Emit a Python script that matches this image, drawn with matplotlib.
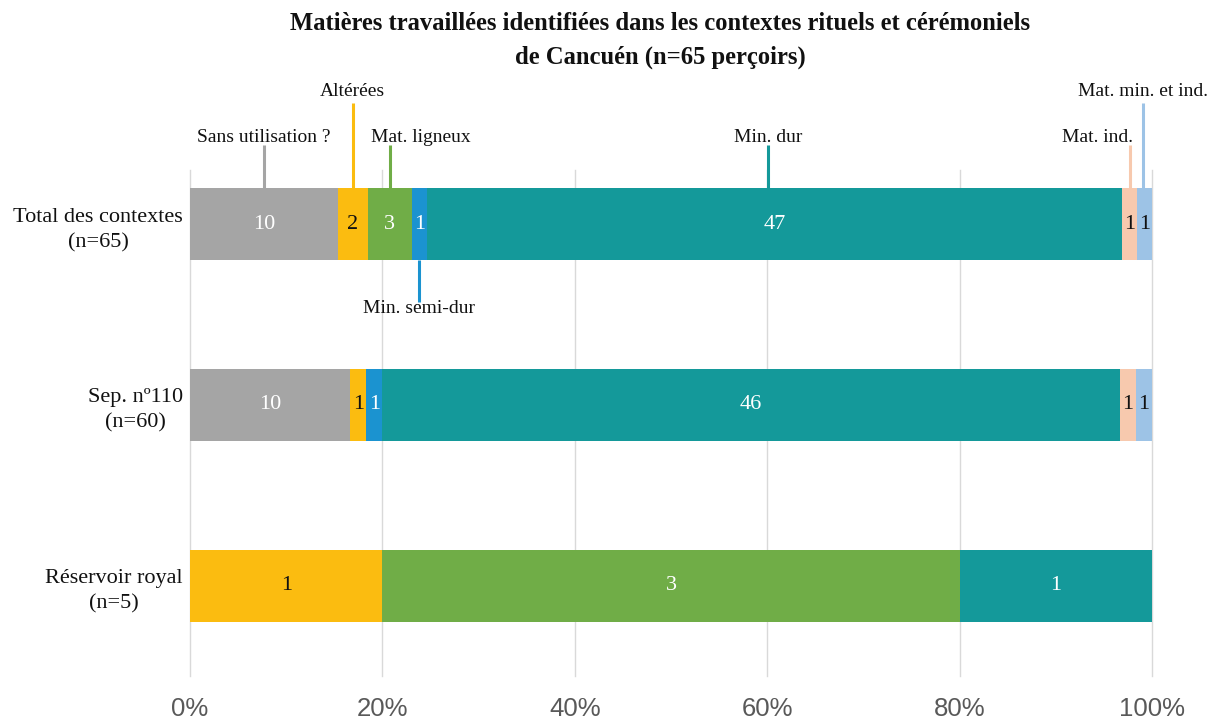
import matplotlib
matplotlib.use("Agg")
import matplotlib.pyplot as plt
from matplotlib import font_manager as fm
import numpy as np

# ---------------- data ----------------
categories = ["Total des contextes\n(n=65)", "Sep. nº110\n(n=60)", "Réservoir royal\n(n=5)"]
series_names = ["Sans utilisation ?", "Altérées", "Mat. ligneux", "Min. semi-dur",
                "Min. dur", "Mat. ind.", "Mat. min. et ind."]
sans_utilisation = [10, 10, 0]
alterees = [2, 1, 1]
mat_ligneux = [3, 0, 3]
min_semi_dur = [1, 1, 0]
min_dur = [47, 46, 1]
mat_ind = [1, 1, 0]
mat_min_ind = [1, 1, 0]
tick_labels = ["0%", "20%", "40%", "60%", "80%", "100%"]
title = ("Matières travaillées identifiées dans les contextes rituels et cérémoniels\n"
         "de Cancuén (n=65 perçoirs)")

series_values = [sans_utilisation, alterees, mat_ligneux, min_semi_dur,
                 min_dur, mat_ind, mat_min_ind]
colors = ["#A5A5A5", "#FBBC10", "#70AD47", "#1B93D0", "#14999A", "#F7C9AE", "#9DC3E6"]
text_colors = ["white", "#111111", "white", "white", "white", "#111111", "#111111"]

# ---------------- fonts ----------------
available = {f.name for f in fm.fontManager.ttflist}
serif = "Liberation Serif" if "Liberation Serif" in available else "DejaVu Serif"
sans = "Liberation Sans Narrow" if "Liberation Sans Narrow" in available else "Liberation Sans"

fig = plt.figure(figsize=(12.18, 7.22), dpi=100)
W, H = 1218, 722
ax = fig.add_axes([190 / W, 1 - 676 / H, (1152 - 190) / W, (676 - 170) / H])

vals = np.array(series_values, dtype=float)  # series x categories
totals = vals.sum(axis=0)
pct = vals / totals * 100
y = np.arange(len(categories))
bar_h = 0.4

left = np.zeros(len(categories))
for i, name in enumerate(series_names):
    ax.barh(y, pct[i], left=left, height=bar_h, color=colors[i], zorder=3)
    for j in range(len(categories)):
        if vals[i, j] > 0:
            ax.text(left[j] + pct[i, j] / 2, y[j], f"{int(vals[i, j])}",
                    ha="center", va="center", color=text_colors[i],
                    fontsize=16, family=serif, zorder=4)
    left = left + pct[i]

ax.set_xlim(0, 100)
ax.set_ylim(2.5, -0.3)
ax.set_xticks([0, 20, 40, 60, 80, 100])
ax.set_xticklabels(tick_labels, fontsize=18.5, color="#595959", family=sans)
ax.tick_params(axis="x", length=0, pad=15)
ax.set_yticks(y)
ax.set_yticklabels(categories, fontsize=16, family=serif, color="#111111",
                   multialignment="center", linespacing=1.45)
ax.tick_params(axis="y", length=0, pad=5)
ax.grid(axis="x", color="#D9D9D9", lw=1, zorder=0)
for gl in ax.get_xgridlines():
    gl.set_clip_on(False)
for s in ax.spines.values():
    s.set_visible(False)

# ---------------- leader labels on the first bar ----------------
# level: (line end y, text y, va); offsets in percent units
levels = {"low": (-0.44, -0.456, "baseline"),
          "high": (-0.672, -0.711, "baseline"),
          "below": (0.43, 0.42, "top")}
label_level = ["low", "high", "low", "below", "low", "low", "high"]
label_dx = [0, 0, 3.2, 0, 0, -3.4, 0]
line_dx = [0, 0, 0, 0, -0.7, 0, -0.2]
cum = np.concatenate([[0], np.cumsum(pct[:, 0])])
for i, name in enumerate(series_names):
    xc = (cum[i] + cum[i + 1]) / 2 + line_dx[i]
    line_end, ty, va = levels[label_level[i]]
    edge = bar_h / 2 if label_level[i] == "below" else -bar_h / 2
    ax.plot([xc, xc], [edge, line_end], color=colors[i], lw=2.2,
            clip_on=False, zorder=5, solid_capstyle="butt")
    ax.text(xc + label_dx[i], ty, name, ha="center", va=va, fontsize=14,
            family=serif, color="#111111", clip_on=False)

fig.text(0.542, 0.984, title, ha="center", va="top", fontsize=17.7,
         fontweight="bold", family=serif, color="#111111", linespacing=1.6)

fig.savefig("out.png", dpi=100, facecolor="white")
